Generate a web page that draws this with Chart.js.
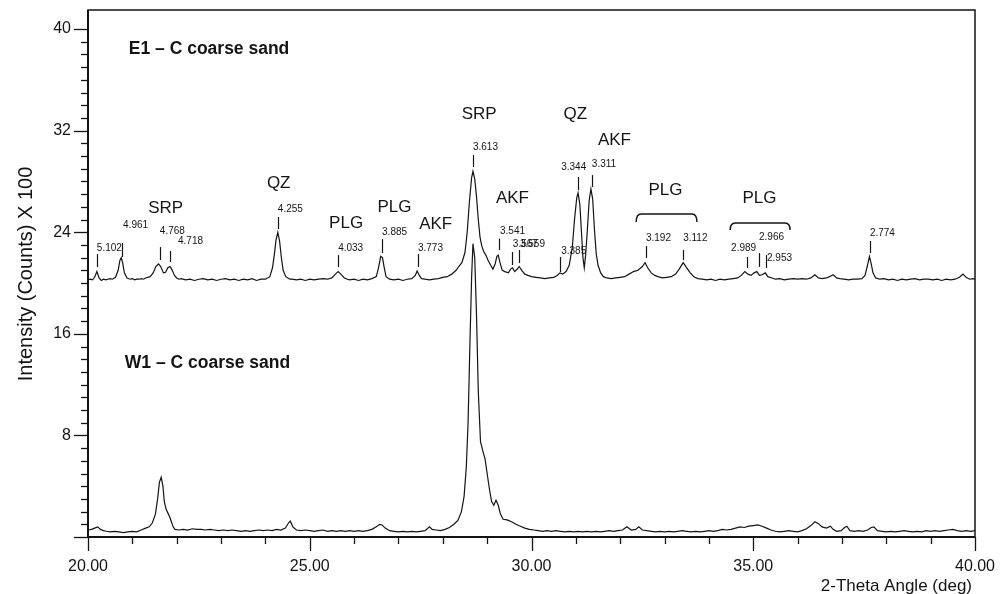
<!DOCTYPE html>
<html>
<head>
<meta charset="utf-8">
<script src="https://cdn.jsdelivr.net/npm/chart.js@4.4.1/dist/chart.umd.min.js"></script>
<style>
  html, body { margin: 0; padding: 0; background: #fff; }
  #wrap { width: 1008px; height: 594px; }
</style>
</head>
<body>
<div id="wrap"><canvas id="xrd" width="1008" height="594"></canvas></div>
<script>
// 2-theta (deg), intensity (counts x 100)
const e1Points = [
  [20.00,20.25],[20.05,20.3],[20.10,20.25],[20.15,20.45],[20.20,20.9],[20.25,20.4],[20.30,20.2],[20.35,20.3],
  [20.40,20.25],[20.45,20.3],[20.50,20.35],[20.55,20.3],[20.62,20.45],[20.68,21.0],[20.72,21.8],[20.75,22.0],
  [20.78,21.6],[20.82,20.8],[20.88,20.4],[20.95,20.3],[21.00,20.35],[21.05,20.25],[21.10,20.3],[21.15,20.3],
  [21.20,20.35],[21.25,20.3],[21.30,20.4],[21.40,20.5],[21.47,20.8],[21.53,21.3],[21.59,21.5],[21.64,21.3],
  [21.70,20.8],[21.75,20.85],[21.80,21.2],[21.85,21.3],[21.90,21.0],[21.95,20.6],[22.00,20.4],[22.05,20.3],
  [22.1,20.35],[22.2,20.25],[22.3,20.3],[22.4,20.2],[22.5,20.3],[22.6,20.35],[22.7,20.25],[22.8,20.3],
  [22.9,20.2],[23.0,20.3],[23.1,20.35],[23.2,20.25],[23.3,20.3],[23.4,20.2],[23.5,20.3],[23.6,20.25],
  [23.7,20.35],[23.8,20.2],[23.9,20.3],[24.0,20.3],[24.1,20.5],[24.16,21.2],[24.20,22.2],[24.24,23.4],
  [24.28,24.0],[24.32,23.3],[24.36,22.0],[24.40,21.0],[24.46,20.5],[24.55,20.3],[24.6,20.3],[24.7,20.25],
  [24.8,20.3],[24.9,20.2],[25.0,20.3],[25.1,20.25],[25.2,20.3],[25.3,20.35],[25.4,20.3],[25.5,20.4],
  [25.58,20.7],[25.64,20.9],[25.70,20.7],[25.78,20.4],[25.85,20.3],[25.9,20.25],[26.0,20.3],[26.1,20.2],
  [26.2,20.3],[26.3,20.25],[26.4,20.35],[26.5,20.5],[26.55,21.2],[26.60,22.1],[26.64,22.0],[26.68,21.2],
  [26.72,20.5],[26.8,20.3],[26.9,20.25],[27.0,20.3],[27.1,20.2],[27.2,20.3],[27.3,20.35],[27.38,20.6],
  [27.42,20.95],[27.47,20.6],[27.52,20.35],[27.6,20.3],[27.7,20.25],[27.8,20.3],[27.9,20.35],[28.0,20.45],
  [28.1,20.5],[28.2,20.7],[28.3,21.0],[28.36,21.3],[28.43,21.6],[28.50,22.4],[28.55,24.0],[28.60,26.4],
  [28.65,28.3],[28.68,28.8],[28.72,28.2],[28.76,26.8],[28.80,25.0],[28.84,23.6],[28.88,22.9],[28.92,22.5],
  [28.97,22.2],[29.02,21.8],[29.08,21.4],[29.13,21.1],[29.18,21.5],[29.22,22.1],[29.25,22.2],[29.29,21.6],
  [29.34,21.0],[29.40,20.9],[29.48,20.8],[29.53,21.1],[29.57,21.2],[29.62,20.9],[29.68,21.1],[29.72,21.3],
  [29.78,21.0],[29.85,20.7],[29.92,20.6],[30.0,20.5],[30.1,20.45],[30.2,20.4],[30.3,20.35],[30.4,20.4],
  [30.5,20.45],[30.58,20.6],[30.64,20.8],[30.70,20.7],[30.78,20.9],[30.85,21.4],[30.92,22.8],[30.97,25.0],
  [31.02,26.7],[31.05,27.1],[31.09,26.2],[31.13,23.8],[31.16,22.0],[31.19,21.2],[31.22,22.2],[31.26,24.2],
  [31.30,26.5],[31.34,27.4],[31.38,26.6],[31.42,24.2],[31.46,22.3],[31.50,21.4],[31.56,20.8],[31.62,20.5],
  [31.7,20.4],[31.8,20.35],[31.9,20.4],[32.0,20.45],[32.1,20.5],[32.2,20.7],[32.3,20.9],[32.4,21.0],
  [32.5,21.3],[32.56,21.6],[32.62,21.2],[32.7,20.8],[32.78,20.6],[32.85,20.5],[32.95,20.4],[33.05,20.45],
  [33.15,20.5],[33.25,20.7],[33.33,21.1],[33.42,21.6],[33.50,21.2],[33.58,20.8],[33.66,20.5],[33.75,20.35],
  [33.85,20.3],[33.95,20.25],[34.05,20.3],[34.15,20.2],[34.25,20.3],[34.35,20.25],[34.45,20.3],[34.55,20.35],
  [34.65,20.4],[34.73,20.6],[34.81,20.9],[34.88,20.7],[34.95,20.6],[35.02,20.8],[35.08,20.9],[35.14,20.6],
  [35.20,20.65],[35.27,20.8],[35.33,20.5],[35.42,20.4],[35.5,20.3],[35.6,20.35],[35.7,20.25],[35.8,20.3],
  [35.9,20.35],[36.0,20.3],[36.1,20.35],[36.2,20.3],[36.3,20.4],[36.39,20.65],[36.47,20.4],[36.55,20.35],
  [36.65,20.4],[36.72,20.5],[36.80,20.65],[36.88,20.4],[36.95,20.35],[37.05,20.3],[37.15,20.25],[37.25,20.3],
  [37.35,20.3],[37.45,20.35],[37.52,20.6],[37.57,21.3],[37.62,22.1],[37.66,21.5],[37.70,20.8],[37.76,20.4],
  [37.85,20.3],[37.95,20.35],[38.05,20.25],[38.15,20.3],[38.25,20.2],[38.35,20.3],[38.45,20.25],[38.55,20.3],
  [38.65,20.35],[38.75,20.25],[38.85,20.3],[38.95,20.3],[39.05,20.25],[39.15,20.3],[39.25,20.2],[39.35,20.3],
  [39.45,20.25],[39.55,20.3],[39.65,20.45],[39.73,20.7],[39.80,20.45],[39.88,20.3],[39.95,20.35],[40.0,20.3]
];

const w1Points = [
  [20.00,0.55],[20.08,0.6],[20.15,0.7],[20.22,0.8],[20.28,0.6],[20.35,0.5],[20.42,0.45],[20.5,0.4],
  [20.6,0.45],[20.7,0.4],[20.8,0.35],[20.9,0.4],[21.0,0.45],[21.1,0.4],[21.2,0.55],[21.3,0.7],
  [21.38,0.8],[21.45,1.1],[21.52,1.8],[21.57,3.0],[21.61,4.3],[21.65,4.7],[21.69,4.0],[21.72,2.8],
  [21.76,2.2],[21.80,1.9],[21.84,1.6],[21.88,1.2],[21.92,0.8],[21.96,0.6],[22.05,0.55],[22.15,0.6],
  [22.25,0.55],[22.35,0.65],[22.45,0.6],[22.55,0.6],[22.65,0.55],[22.75,0.6],[22.85,0.55],[22.95,0.5],
  [23.05,0.55],[23.15,0.5],[23.25,0.55],[23.35,0.5],[23.45,0.45],[23.55,0.5],[23.65,0.45],[23.75,0.5],
  [23.85,0.55],[23.95,0.5],[24.05,0.55],[24.15,0.5],[24.25,0.6],[24.35,0.55],[24.45,0.7],[24.52,1.1],
  [24.56,1.25],[24.62,0.8],[24.7,0.55],[24.8,0.5],[24.9,0.55],[25.0,0.5],[25.1,0.45],[25.2,0.5],
  [25.3,0.55],[25.4,0.45],[25.5,0.5],[25.6,0.45],[25.7,0.5],[25.8,0.45],[25.9,0.5],[26.0,0.45],
  [26.1,0.5],[26.2,0.45],[26.3,0.5],[26.4,0.6],[26.5,0.8],[26.58,1.0],[26.63,0.95],[26.7,0.7],
  [26.8,0.5],[26.9,0.45],[27.0,0.4],[27.1,0.45],[27.2,0.4],[27.3,0.45],[27.4,0.4],[27.5,0.45],
  [27.6,0.5],[27.7,0.8],[27.76,0.6],[27.85,0.55],[27.95,0.5],[28.05,0.6],[28.15,0.75],[28.25,1.0],
  [28.34,1.3],[28.42,2.0],[28.48,3.2],[28.53,5.5],[28.57,9.0],[28.61,15.0],[28.65,20.5],[28.68,23.1],
  [28.72,22.0],[28.76,17.5],[28.80,11.5],[28.85,7.5],[28.90,6.8],[28.95,6.2],[29.0,5.0],[29.05,3.8],
  [29.10,2.8],[29.15,2.5],[29.20,2.9],[29.25,2.5],[29.30,1.8],[29.36,1.4],[29.45,1.35],[29.55,1.2],
  [29.65,1.0],[29.75,0.85],[29.85,0.7],[29.95,0.6],[30.05,0.55],[30.15,0.5],[30.25,0.45],[30.35,0.5],
  [30.45,0.45],[30.55,0.5],[30.65,0.45],[30.75,0.4],[30.85,0.45],[30.95,0.4],[31.05,0.45],[31.15,0.4],
  [31.25,0.45],[31.35,0.4],[31.45,0.45],[31.55,0.4],[31.65,0.45],[31.75,0.5],[31.85,0.45],[31.95,0.5],
  [32.05,0.55],[32.15,0.8],[32.25,0.55],[32.35,0.6],[32.42,0.8],[32.5,0.55],[32.6,0.5],[32.7,0.45],
  [32.8,0.4],[32.9,0.45],[33.0,0.4],[33.1,0.45],[33.2,0.4],[33.3,0.45],[33.4,0.5],[33.5,0.45],
  [33.6,0.4],[33.7,0.45],[33.8,0.4],[33.9,0.45],[34.0,0.5],[34.1,0.45],[34.2,0.5],[34.3,0.6],
  [34.4,0.55],[34.5,0.6],[34.6,0.7],[34.7,0.8],[34.8,0.75],[34.9,0.85],[35.0,0.9],[35.1,0.95],
  [35.2,0.85],[35.3,0.7],[35.4,0.55],[35.5,0.45],[35.6,0.4],[35.7,0.45],[35.8,0.5],[35.9,0.45],
  [36.0,0.4],[36.1,0.5],[36.2,0.65],[36.3,0.9],[36.39,1.2],[36.47,1.05],[36.55,0.8],[36.65,0.7],
  [36.74,0.85],[36.80,0.6],[36.88,0.45],[36.98,0.5],[37.06,0.75],[37.11,0.85],[37.18,0.5],[37.28,0.45],
  [37.38,0.5],[37.48,0.45],[37.58,0.55],[37.66,0.75],[37.72,0.8],[37.8,0.5],[37.9,0.45],[38.0,0.4],
  [38.1,0.45],[38.2,0.4],[38.3,0.45],[38.4,0.5],[38.5,0.45],[38.6,0.4],[38.7,0.45],[38.8,0.4],
  [38.9,0.5],[39.0,0.45],[39.1,0.5],[39.2,0.45],[39.3,0.5],[39.4,0.55],[39.5,0.6],[39.6,0.5],
  [39.7,0.45],[39.8,0.5],[39.9,0.45],[40.0,0.5]
];

const yTickLabels = [8, 16, 24, 32, 40];
const xTickLabels = [20, 25, 30, 35, 40];

// [text, 2-theta, intensity]
const sampleTitles = [
  ['E1 \u2013 C coarse sand', 20.92, 38.43],
  ['W1 \u2013 C coarse sand', 20.83, 13.70]
];
const mineralLabels = [
  ['SRP', 21.75, 25.9], ['QZ', 24.30, 27.87], ['PLG', 25.82, 24.72], ['PLG', 26.91, 25.98],
  ['AKF', 27.84, 24.65], ['SRP', 28.82, 33.31], ['AKF', 29.57, 26.69], ['QZ', 30.99, 33.31],
  ['AKF', 31.87, 31.26], ['PLG', 33.02, 27.32], ['PLG', 35.14, 26.69]
];
const spacingLabels = [
  ['5.102', 20.20, 22.76], ['4.961', 20.79, 24.57], ['4.768', 21.62, 24.09], ['4.718', 22.03, 23.31],
  ['4.255', 24.28, 25.83], ['4.033', 25.64, 22.76], ['3.885', 26.63, 24.02], ['3.773', 27.44, 22.76],
  ['3.613', 28.68, 30.71], ['3.541', 29.29, 24.09], ['3.567', 29.58, 23.07], ['3.559', 29.74, 23.07],
  ['3.385', 30.67, 22.52], ['3.344', 30.67, 29.13], ['3.311', 31.36, 29.37], ['3.192', 32.58, 23.54],
  ['3.112', 33.42, 23.54], ['2.989', 34.50, 22.76], ['2.966', 35.13, 23.62], ['2.953', 35.31, 21.97],
  ['2.774', 37.63, 23.94]
];
// [2-theta, top, bottom]
const peakMarks = [
  [20.20, 22.28, 21.26], [20.77, 23.15, 22.05], [21.62, 22.83, 21.81], [21.85, 22.52, 21.65],
  [24.28, 25.20, 24.25], [25.64, 22.20, 21.26], [26.63, 23.46, 22.36], [27.44, 22.28, 21.26],
  [28.68, 30.08, 29.13], [29.27, 23.5, 22.6], [29.56, 22.44, 21.42], [29.72, 22.60, 21.57],
  [30.64, 22.05, 20.87], [31.05, 28.35, 27.32], [31.36, 28.50, 27.56], [32.58, 22.91, 21.97],
  [33.42, 22.60, 21.81], [34.86, 22.05, 21.18], [35.13, 22.36, 21.26], [35.29, 22.20, 21.18],
  [37.63, 23.31, 22.36]
];
// [from, to, level, drop]
const brackets = [
  [32.36, 33.73, 25.43, 24.80],
  [34.48, 35.83, 24.72, 24.17]
];

const FONT = 'Arial, "Liberation Sans", sans-serif';
const INK = '#141414';

// scale label paddings must not push the plot box inwards
const noPad = s => { s.paddingTop = 0; s.paddingBottom = 0; s.paddingLeft = 0; s.paddingRight = 0; };

const xrdDecor = {
  id: 'xrdDecor',
  afterDraw(c) {
    const ctx = c.ctx, xs = c.scales.x, ys = c.scales.y, a = c.chartArea;
    const px = v => xs.getPixelForValue(v), py = v => ys.getPixelForValue(v);
    const line = (x1, y1, x2, y2) => { ctx.beginPath(); ctx.moveTo(x1, y1); ctx.lineTo(x2, y2); ctx.stroke(); };
    ctx.save();
    ctx.strokeStyle = INK;
    ctx.fillStyle = INK;

    // frame
    ctx.lineWidth = 1.5;
    ctx.strokeRect(a.left, a.top, a.right - a.left, a.bottom - a.top);
    ctx.lineWidth = 2;
    line(a.left, a.top, a.left, a.bottom + 1);
    line(a.left - 1, a.bottom, a.right, a.bottom);

    // tick marks
    ctx.lineWidth = 1.3;
    ys.ticks.forEach(t => {
      if (!Number.isInteger(t.value)) return;
      const y = Math.round(py(t.value)) + 0.5;
      line(a.left - (t.value % 8 === 0 ? 14 : 7), y, a.left, y);
    });
    xs.ticks.forEach(t => {
      if (!Number.isInteger(t.value)) return;
      const x = Math.round(px(t.value)) + 0.5;
      line(x, a.bottom, x, a.bottom + (t.value % 5 === 0 ? 14 : 7));
    });

    // peak marks
    ctx.lineWidth = 1.2;
    peakMarks.forEach(([x, y1, y2]) => {
      const X = Math.round(px(x)) + 0.5;
      line(X, py(y1), X, py(y2));
    });

    // brackets
    ctx.lineWidth = 1.5;
    brackets.forEach(([x1, x2, lvl, drop]) => {
      const X1 = px(x1), X2 = px(x2), Y = py(lvl), Yd = py(drop);
      ctx.beginPath();
      ctx.moveTo(X1, Yd);
      ctx.quadraticCurveTo(X1, Y, X1 + 5, Y);
      ctx.lineTo(X2 - 5, Y);
      ctx.quadraticCurveTo(X2, Y, X2, Yd);
      ctx.stroke();
    });

    // texts
    ctx.textBaseline = 'middle';
    ctx.textAlign = 'left';
    ctx.font = 'bold 17.5px ' + FONT;
    sampleTitles.forEach(([t, x, y]) => ctx.fillText(t, px(x), py(y)));
    ctx.font = '10px ' + FONT;
    spacingLabels.forEach(([t, x, y]) => ctx.fillText(t, px(x), py(y)));
    ctx.textAlign = 'center';
    ctx.font = '17px ' + FONT;
    mineralLabels.forEach(([t, x, y]) => ctx.fillText(t, px(x), py(y)));

    // axis titles
    ctx.textAlign = 'right';
    ctx.font = '17px ' + FONT;
    ctx.fillText('2-Theta Angle (deg)', a.right - 3, 586);
    ctx.translate(26, 274);
    ctx.rotate(-Math.PI / 2);
    ctx.textAlign = 'center';
    ctx.font = '20px ' + FONT;
    ctx.fillText('Intensity (Counts) X 100', 0, 0);
    ctx.restore();
  }
};

const toXY = pts => pts.map(([x, y]) => ({ x, y }));

new Chart(document.getElementById('xrd'), {
  type: 'scatter',
  data: {
    datasets: [
      { label: 'E1 - C coarse sand', data: toXY(e1Points) },
      { label: 'W1 - C coarse sand', data: toXY(w1Points) }
    ]
  },
  options: {
    responsive: false,
    animation: false,
    showLine: true,
    elements: {
      point: { radius: 0, hoverRadius: 0 },
      line: { borderColor: INK, borderWidth: 1.2, tension: 0, fill: false }
    },
    layout: { padding: { left: 0, right: 33, top: 10, bottom: 0 } },
    plugins: { legend: { display: false }, tooltip: { enabled: false } },
    scales: {
      x: {
        type: 'linear',
        min: 20, max: 40,
        afterFit: s => { s.height = 57; noPad(s); },
        border: { display: false },
        grid: { display: false, drawTicks: false },
        ticks: {
          stepSize: 1, autoSkip: false, maxRotation: 0, padding: 20,
          color: INK, font: { family: FONT, size: 16 },
          callback: v => xTickLabels.includes(v) ? v.toFixed(2) : ''
        }
      },
      y: {
        min: 0, max: 41.5,
        afterFit: s => { s.width = 88; noPad(s); },
        border: { display: false },
        grid: { display: false, drawTicks: false },
        ticks: {
          stepSize: 1, autoSkip: false, padding: 17,
          color: INK, font: { family: FONT, size: 16 },
          callback: v => yTickLabels.includes(v) ? String(v) : ''
        }
      }
    }
  },
  plugins: [xrdDecor]
});
</script>
</body>
</html>
